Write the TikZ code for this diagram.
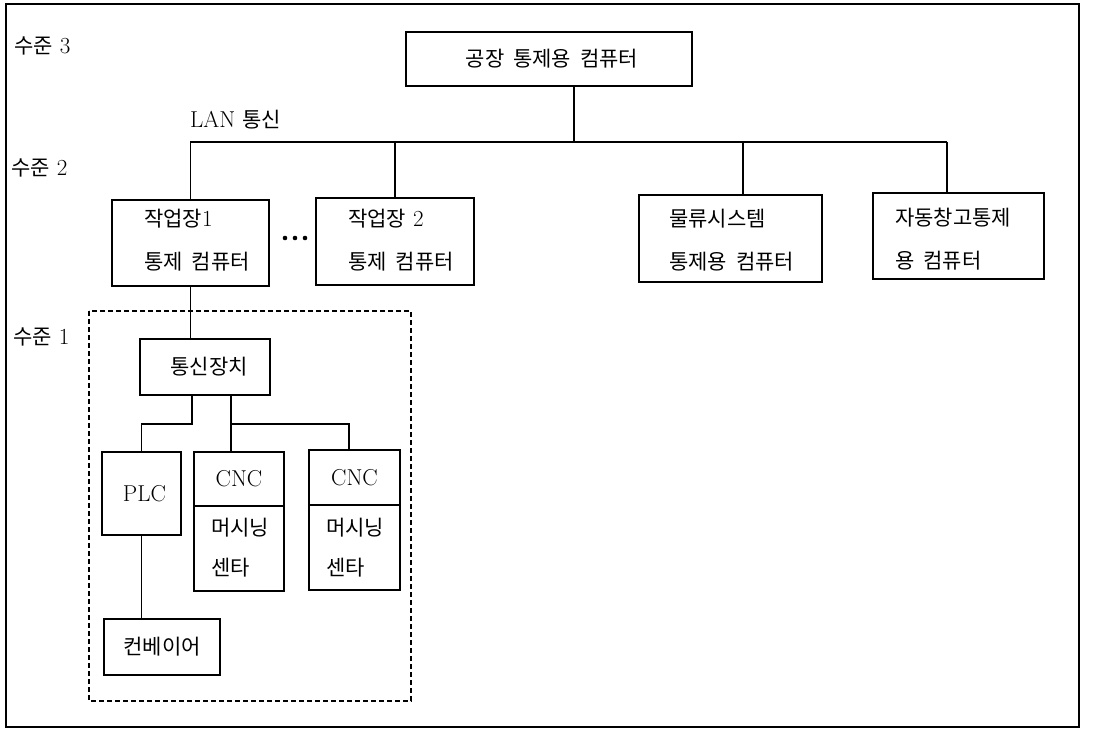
\documentclass[tikz,border=0pt]{standalone}
\usepackage{fontspec}
\newfontfamily\kr{Noto Sans CJK KR}
\newcommand\K[1]{{\fontsize{21}{24}\selectfont\kr #1}}
\newcommand\kgap{\hspace{9pt}}
\begin{document}
\begin{tikzpicture}[x=1pt,y=-1pt,
  box/.style={draw, line width=1.8pt, inner sep=0pt, font=\fontsize{21}{24}\selectfont\kr},
  lat/.style={font=\fontsize{23}{24}\selectfont\rmfamily},
  conn/.style={line width=1.2pt},
  lbl/.style={anchor=west, inner sep=0pt, font=\fontsize{23}{24}\selectfont},
  two/.style={anchor=west, align=left, inner sep=0pt, font=\fontsize{23}{43}\selectfont},
  twob/.style={anchor=west, align=left, inner sep=0pt, font=\fontsize{23}{40}\selectfont}
]
\useasboundingbox (0,0) rectangle (1113,730);
\draw[line width=1.6pt] (6,4) rectangle (1079,727);

% level labels
\node[lbl] (l3) at (14,46) {\K{수준} 3};
\node[lbl] (l2) at (11,168) {\K{수준} 2};
\node[lbl] (l1) at (13,337) {\K{수준} 1};
\node[lbl] (lan) at (190,120) {LAN \K{통신}};

% level 3
\node[box, minimum width=286pt, minimum height=54pt] (top) at (549,59) {\hspace{6pt}공장\kgap 통제용\kgap 컴퓨터};

% level 2
\node[box, minimum width=157pt, minimum height=86pt] (b1) at (190.5,243) {};
\node[box, minimum width=158pt, minimum height=87pt] (b2) at (395,241.5) {};
\node[box, minimum width=183pt, minimum height=87pt] (b3) at (730.5,238.5) {};
\node[box, minimum width=171pt, minimum height=86pt] (b4) at (958.5,236) {};
\node[two] (t1) at (144,240.5) {\K{작업장}1\\\K{통제\kgap 컴퓨터}};
\node[two] (t2) at (348,240.5) {\K{작업장} 2\\\K{통제\kgap 컴퓨터}};
\node[two] (t3) at (669,240) {\K{물류시스템}\\\K{통제용\kgap 컴퓨터}};
\node[two] (t4) at (895,239) {\K{자동창고통제}\\\K{용\kgap 컴퓨터}};
\fill (285,238) circle (2.3);
\fill (295,238) circle (2.3);
\fill (305,238) circle (2.3);

% bus
\coordinate (busL) at (190,142);
\coordinate (busR) at (947,142);
\draw[conn] (busL) -- (busR);
\draw[conn] ([xshift=25pt]top.south) -- ([xshift=25pt]top.south |- busL);
\draw[conn] (b1.north) -- (b1.north |- busL);
\draw[conn] (b2.north) -- (b2.north |- busL);
\draw[conn] ([xshift=12.5pt]b3.north) -- ([xshift=12.5pt]b3.north |- busL);
\draw[conn] ([xshift=-11.5pt]b4.north) -- ([xshift=-11.5pt]b4.north |- busL);

% level 1 group
\draw[line width=1.1pt, dash pattern=on 5pt off 3pt] (89,311) rectangle (411,701);
\node[box, minimum width=130pt, minimum height=56pt] (comm) at (205,367) {\hspace{8pt}통신장치};
\node[box, lat, minimum width=79pt, minimum height=83pt] (plc) at (141.5,493.5) {\hspace{6pt}PLC};
\node[box, lat, minimum width=90pt, minimum height=54pt] (cnc1a) at (239,479) {CNC};
\node[box, minimum width=90pt, minimum height=85pt] (cnc1b) at (239,548.5) {};
\node[box, lat, minimum width=91pt, minimum height=55pt] (cnc2a) at (354.5,477.5) {CNC};
\node[box, minimum width=91pt, minimum height=85pt] (cnc2b) at (354.5,547.5) {};
\node[twob] (t5) at (211,548) {\K{머시닝}\\\K{센타}};
\node[twob] (t6) at (326,548) {\K{머시닝}\\\K{센타}};
\node[box, minimum width=116pt, minimum height=56pt] (conv) at (162,647) {컨베이어};

\draw[conn] (b1.south) -- (b1.south |- comm.north);
\draw[conn] ([xshift=-13pt]comm.south) -- ++(0,28) -| (plc.north);
\coordinate (j2) at ([xshift=26pt]comm.south);
\draw[conn] (j2) -- (j2 |- cnc1a.north);
\draw[conn] (j2) ++(0,28) -| ([xshift=-5.5pt]cnc2a.north);
\draw[conn] (plc.south) -- (plc.south |- conv.north);
\end{tikzpicture}
\end{document}
